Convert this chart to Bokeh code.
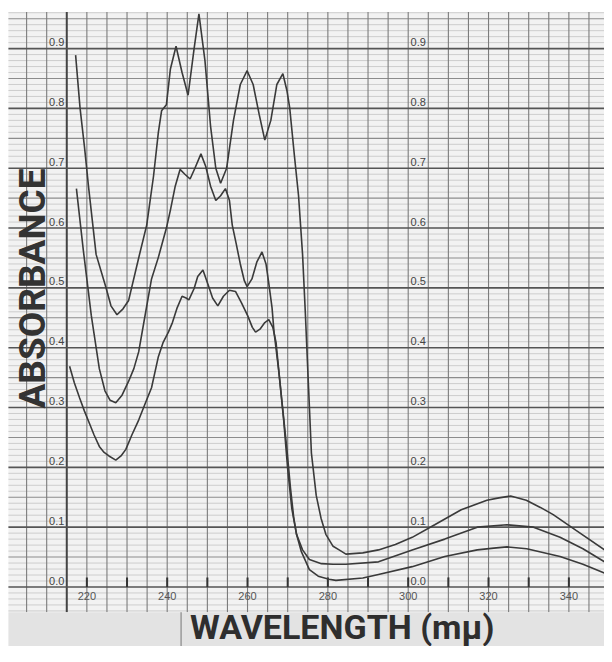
import numpy as np
from bokeh.plotting import figure
from bokeh.models import Label
from bokeh.core.properties import value
from bokeh.embed import file_html
from bokeh.resources import INLINE

# ---------------- data ----------------
wl_top = [217.2, 218.3, 219.4, 220.4, 222.3, 224.7, 226.0, 227.5, 229.0, 230.4,
          232.9, 234.9, 236.6, 237.8, 238.6, 239.8, 240.8, 242.2, 243.7, 245.2,
          246.7, 247.9, 249.4, 250.8, 252.1, 253.3, 254.8, 256.5, 258.2, 259.9,
          261.4, 262.9, 264.3, 265.8, 267.3, 268.8, 269.8, 270.5, 271.7, 272.7,
          273.7, 274.4, 275.2, 275.9, 277.1, 278.3, 279.5, 281.3, 282.8, 284.5,
          288.7, 292.6, 296.8, 301.0, 306.6, 313.2, 319.6, 322.6, 325.5, 329.4,
          332.9, 336.1, 341.7, 348.9]
abs_top = [0.889, 0.801, 0.736, 0.670, 0.556, 0.502, 0.470, 0.455, 0.465, 0.479,
           0.550, 0.605, 0.687, 0.760, 0.796, 0.806, 0.866, 0.904, 0.860, 0.822,
           0.900, 0.958, 0.880, 0.770, 0.700, 0.675, 0.700, 0.780, 0.840, 0.863,
           0.840, 0.790, 0.747, 0.780, 0.840, 0.858, 0.830, 0.801, 0.719, 0.654,
           0.556, 0.457, 0.332, 0.224, 0.153, 0.115, 0.088, 0.068, 0.062, 0.055,
           0.057, 0.062, 0.071, 0.083, 0.104, 0.129, 0.145, 0.149, 0.152, 0.145,
           0.133, 0.121, 0.095, 0.062]

wl_mid = [217.4, 219.1, 221.1, 223.1, 224.5, 225.8, 227.2, 228.7, 230.4, 231.7,
          232.9, 234.6, 236.1, 237.8, 239.8, 240.8, 242.0, 243.2, 244.4, 245.7,
          246.9, 248.4, 249.6, 250.8, 252.1, 253.3, 254.5, 255.5, 256.2, 257.2,
          258.2, 259.2, 259.9, 261.1, 262.3, 263.6, 264.6, 265.3, 266.1, 266.6,
          267.8, 269.0, 270.0, 271.0, 272.2, 273.7, 275.4, 278.4, 281.3, 284.5,
          292.6, 301.0, 309.1, 317.2, 324.6, 331.2, 337.8, 343.5, 348.9]
abs_mid = [0.666, 0.564, 0.454, 0.365, 0.328, 0.312, 0.308, 0.320, 0.344, 0.365,
           0.393, 0.458, 0.515, 0.551, 0.600, 0.630, 0.670, 0.698, 0.690, 0.682,
           0.700, 0.724, 0.703, 0.670, 0.646, 0.654, 0.666, 0.646, 0.605, 0.573,
           0.540, 0.512, 0.502, 0.515, 0.543, 0.560, 0.540, 0.507, 0.467, 0.426,
           0.360, 0.279, 0.197, 0.132, 0.088, 0.062, 0.046, 0.039, 0.038, 0.038,
           0.042, 0.062, 0.080, 0.100, 0.104, 0.100, 0.083, 0.064, 0.042]

wl_low = [215.7, 216.9, 218.2, 219.4, 220.6, 221.8, 223.1, 224.3, 225.5, 227.2,
          228.5, 229.7, 231.2, 232.9, 234.6, 236.1, 237.8, 239.0, 240.3, 241.3,
          242.5, 243.7, 244.7, 245.4, 246.7, 247.6, 248.9, 250.1, 251.3, 252.6,
          254.0, 255.5, 257.0, 258.5, 260.0, 261.2, 262.0, 263.1, 264.3, 265.3,
          266.3, 267.1, 267.8, 268.8, 269.8, 270.7, 271.5, 272.2, 273.4, 275.4,
          277.6, 280.3, 282.0, 288.7, 292.6, 301.0, 309.1, 317.2, 321.3, 324.6,
          329.5, 337.8, 343.5, 348.9]
abs_low = [0.369, 0.341, 0.316, 0.294, 0.274, 0.254, 0.235, 0.225, 0.219, 0.212,
           0.219, 0.230, 0.254, 0.279, 0.308, 0.333, 0.385, 0.409, 0.426, 0.442,
           0.467, 0.486, 0.483, 0.480, 0.499, 0.519, 0.530, 0.507, 0.483, 0.470,
           0.486, 0.496, 0.494, 0.475, 0.454, 0.434, 0.426, 0.431, 0.442, 0.447,
           0.434, 0.409, 0.360, 0.295, 0.230, 0.165, 0.116, 0.088, 0.059, 0.029,
           0.018, 0.013, 0.011, 0.015, 0.021, 0.034, 0.051, 0.062, 0.065, 0.067,
           0.064, 0.051, 0.038, 0.023]

x_ticks = [220, 240, 260, 280, 300, 320, 340]
x_tick_labels = ["220", "240", "260", "280", "300", "320", "340"]
y_ticks = [0.0, 0.1, 0.2, 0.3, 0.4, 0.5, 0.6, 0.7, 0.8, 0.9]
y_tick_labels = ["0.0", "0.1", "0.2", "0.3", "0.4", "0.5", "0.6", "0.7", "0.8", "0.9"]

# ---------------- layout constants ----------------
X0, X1 = 198.5, 348.87          # whole canvas
Y0, Y1 = -0.0995, 0.9804
GX0 = 200.47                    # left edge of the chart paper
G_BOT, G_TOP = -0.0424, 0.961   # paper bottom / top

p = figure(width=604, height=646, x_range=(X0, X1), y_range=(Y0, Y1),
           output_backend="svg", toolbar_location=None, min_border=0)
p.xaxis.visible = False
p.yaxis.visible = False
p.xgrid.visible = False
p.ygrid.visible = False
p.outline_line_color = None
p.background_fill_color = "white"
p.border_fill_color = "white"

# chart paper
p.quad(left=[GX0], right=[X1], bottom=[G_BOT], top=[G_TOP],
       fill_color="#f2f2f2", line_color=None)

hy = np.round(np.arange(-0.04, 0.9601, 0.01), 3)
minor, mid, major = [], [], []
for y in hy:
    if abs(y * 10 - round(y * 10)) < 1e-6:
        major.append(y)
    elif abs(y * 20 - round(y * 20)) < 1e-6:
        mid.append(y)
    else:
        minor.append(y)

def hlines(ys, color, w):
    p.segment(x0=[GX0] * len(ys), y0=ys, x1=[X1] * len(ys), y1=ys,
              line_color=color, line_width=w)

hlines(minor, "#c4c4c4", 0.8)
hlines(mid, "#8c8c8c", 1.1)

vx = list(np.arange(205, 346, 5))
v_norm = [v for v in vx if v != 215]
p.segment(x0=v_norm, y0=[G_BOT] * len(v_norm), x1=v_norm, y1=[G_TOP] * len(v_norm),
          line_color="#7c7c7c", line_width=1.1)
p.segment(x0=[215], y0=[G_BOT], x1=[215], y1=[G_TOP], line_color="#444444", line_width=2)

hlines(major, "#555555", 1.6)

# short ticks on the zero line
tk = list(range(220, 341, 10))
p.segment(x0=tk, y0=[0] * len(tk), x1=tk, y1=[0.016] * len(tk),
          line_color="#333333", line_width=2)

# tick labels
p.text(x=x_ticks, y=[-0.0147] * len(x_ticks), text=x_tick_labels,
       text_align="center", text_baseline="middle",
       text_font=value("Liberation Sans"), text_font_size="11px", text_color="#555555")
for col in (210.6, 300.6):
    p.text(x=[col] * len(y_ticks), y=[t + 0.004 for t in y_ticks], text=y_tick_labels,
           text_align="left", text_baseline="bottom",
           text_font=value("Liberation Sans"), text_font_size="11px", text_color="#444444")

# spectra
for xs, ys in ((wl_top, abs_top), (wl_mid, abs_mid), (wl_low, abs_low)):
    p.line(xs, ys, line_color="#3a3a3a", line_width=1.6)

# bottom title band
p.quad(left=[GX0], right=[X1], bottom=[Y0], top=[G_BOT], fill_color="#e3e3e3", line_color=None)
p.segment(x0=[243.46], y0=[Y0], x1=[243.46], y1=[G_BOT], line_color="#999999", line_width=1.5)

p.add_layout(Label(x=245.7, y=-0.0667, text="WAVELENGTH (mμ)", text_align="left",
                   text_baseline="alphabetic", text_font="Roboto", text_font_style="bold",
                   text_font_size="34px", text_color="#2e2e2e"))
p.add_layout(Label(x=206.42, y=0.499, text="ABSORBANCE", angle=np.pi / 2,
                   text_align="center", text_baseline="alphabetic", text_font="Roboto",
                   text_font_style="bold", text_font_size="37px", text_color="#333333"))

open("out.html", "w").write(file_html(p, INLINE))
